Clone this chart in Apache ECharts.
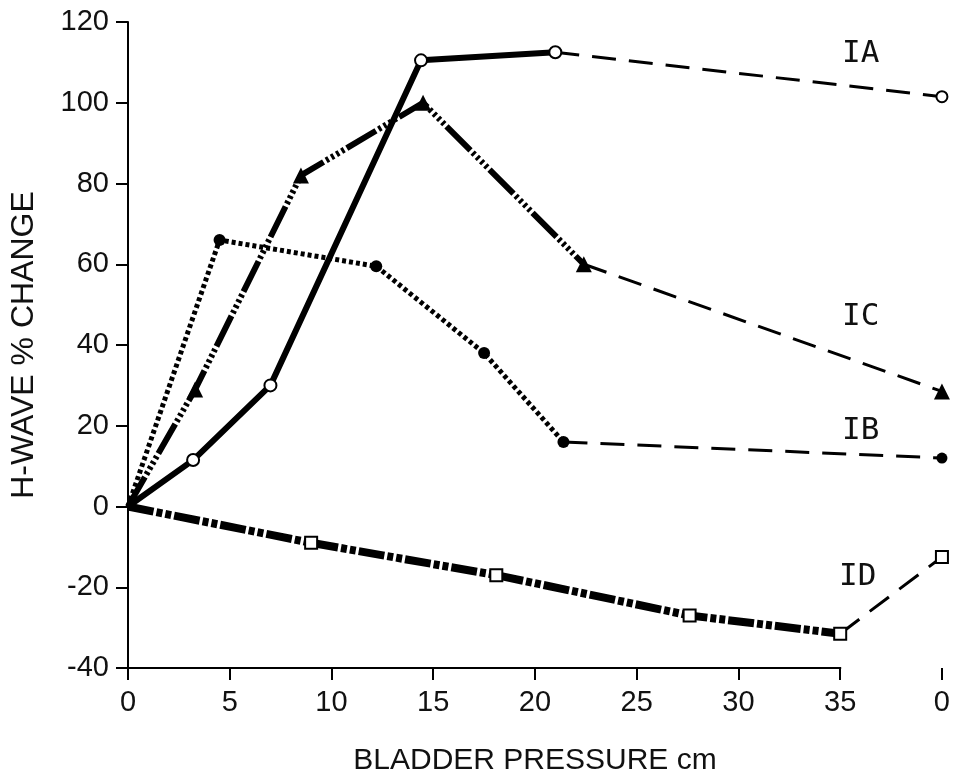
<!DOCTYPE html>
<html>
<head>
<meta charset="utf-8">
<script src="https://cdn.jsdelivr.net/npm/echarts@6/dist/echarts.min.js"></script>
<style>
  html, body { margin: 0; padding: 0; background: #fff; }
  #main { width: 953px; height: 781px; }
</style>
</head>
<body>
<div id="main"></div>
<script>
// x = 40 stands for the "0" shown after release of the bladder pressure
var xTicks = [0, 5, 10, 15, 20, 25, 30, 35, 40];
var xTickLabels = ['0', '5', '10', '15', '20', '25', '30', '35', '0'];
var xRecovery = 40;

// IA - open circles, solid
var iaX = [0, 3.2, 7.0, 14.4, 21.0];
var iaY = [0, 11.5, 30, 110.5, 112.5];
var iaRecovery = 101.5;

// IC - triangles, dashed/hatched
var icX = [0, 3.3, 8.5, 14.5, 22.4];
var icY = [0, 29, 82, 100, 60];
var icRecovery = 28.5;

// IB - filled circles, dotted
var ibX = [0, 4.5, 12.2, 17.5, 21.4];
var ibY = [0, 66, 59.5, 38, 16];
var ibRecovery = 12;

// ID - open squares, dash-dot-dot
var idX = [0, 9.0, 18.1, 27.6, 35.0];
var idY = [0, -9, -17, -27, -31.5];
var idRecovery = -12.5;

function pairs(xs, ys) {
  return xs.map(function (x, i) { return [x, ys[i]]; });
}
function recovery(xs, ys, r) {
  var n = xs.length - 1;
  return [[xs[n], ys[n]], [xRecovery, r]];
}
function skipFirst(sym) {
  return function (v, p) { return p.dataIndex === 0 ? 'none' : sym; };
}

var recoveryStyle = { color: '#000', width: 3, type: [24, 13], cap: 'butt' };
var openItem = { color: '#fff', borderColor: '#000', borderWidth: 2 };
var fillItem = { color: '#000', borderColor: '#000', borderWidth: 0 };

var chart = echarts.init(document.getElementById('main'));
chart.setOption({
  backgroundColor: '#fff',
  animation: false,
  grid: { left: 126, right: 10, top: 22, bottom: 103 },
  xAxis: {
    type: 'value', min: 0, max: 40, interval: 5,
    name: 'BLADDER PRESSURE cm', nameLocation: 'middle', nameGap: 78,
    nameTextStyle: { fontFamily: 'Liberation Sans', fontSize: 30, color: '#111' },
    axisLine: { show: false, onZero: false },
    axisTick: { show: true, length: 12, lineStyle: { color: '#000', width: 2 } },
    splitLine: { show: false },
    axisLabel: {
      margin: 20, fontFamily: 'Liberation Sans', fontSize: 29, color: '#111',
      formatter: function (v) { var i = xTicks.indexOf(v); return i < 0 ? '' : xTickLabels[i]; }
    }
  },
  yAxis: {
    type: 'value', min: -40, max: 120, interval: 20,
    name: 'H-WAVE % CHANGE', nameLocation: 'middle', nameGap: 88, nameRotate: 90,
    nameTextStyle: { fontFamily: 'Liberation Sans', fontSize: 32, color: '#111' },
    axisLine: { show: true, onZero: false, lineStyle: { color: '#000', width: 2 } },
    axisTick: { show: true, length: 12, lineStyle: { color: '#000', width: 2 } },
    splitLine: { show: false },
    axisLabel: { margin: 19, fontFamily: 'Liberation Sans', fontSize: 29, color: '#111' }
  },
  series: [
    { name: 'IA', type: 'line', data: pairs(iaX, iaY), symbol: skipFirst('circle'), symbolSize: 12,
      lineStyle: { color: '#000', width: 6 }, itemStyle: openItem, z: 4 },
    { name: 'IA rec', type: 'line', data: recovery(iaX, iaY, iaRecovery), symbol: skipFirst('circle'), symbolSize: 11,
      lineStyle: recoveryStyle, itemStyle: openItem, z: 3 },
    { name: 'IC', type: 'line', data: pairs(icX, icY), symbol: skipFirst('triangle'), symbolSize: 16,
      lineStyle: { color: '#000', width: 6, type: [34, 3, 3, 3, 3, 3, 3, 3, 3, 3], cap: 'butt' }, itemStyle: fillItem, z: 3 },
    { name: 'IC rec', type: 'line', data: recovery(icX, icY, icRecovery), symbol: skipFirst('triangle'), symbolSize: 16,
      lineStyle: recoveryStyle, itemStyle: fillItem, z: 3 },
    { name: 'IB', type: 'line', data: pairs(ibX, ibY), symbol: skipFirst('circle'), symbolSize: 12,
      lineStyle: { color: '#000', width: 5, type: [4, 3], cap: 'butt' }, itemStyle: fillItem, z: 3 },
    { name: 'IB rec', type: 'line', data: recovery(ibX, ibY, ibRecovery), symbol: skipFirst('circle'), symbolSize: 11,
      lineStyle: recoveryStyle, itemStyle: fillItem, z: 3 },
    { name: 'ID', type: 'line', data: pairs(idX, idY), symbol: skipFirst('rect'), symbolSize: 12,
      lineStyle: { color: '#000', width: 8, type: [26, 3, 6, 3, 6, 3], cap: 'butt' }, itemStyle: openItem, z: 3 },
    { name: 'ID rec', type: 'line', data: recovery(idX, idY, idRecovery), symbol: skipFirst('rect'), symbolSize: 12,
      lineStyle: recoveryStyle, itemStyle: openItem, z: 3 }
  ]
});

// x axis line only runs to 35; the recovery "0" stands apart
var a = chart.convertToPixel({ gridIndex: 0 }, [0, -40]);
var b = chart.convertToPixel({ gridIndex: 0 }, [35, -40]);
var labelFont = { fontFamily: 'DejaVu Sans Mono', fontSize: 31, fill: '#111' };
chart.setOption({
  graphic: [
    { type: 'line', shape: { x1: a[0] - 1, y1: a[1], x2: b[0] + 1, y2: b[1] }, style: { stroke: '#000', lineWidth: 2 }, z: 1 },
    { type: 'text', left: 842, top: 38, style: Object.assign({ text: 'IA' }, labelFont) },
    { type: 'text', left: 842, top: 301, style: Object.assign({ text: 'IC' }, labelFont) },
    { type: 'text', left: 842, top: 415, style: Object.assign({ text: 'IB' }, labelFont) },
    { type: 'text', left: 839, top: 561, style: Object.assign({ text: 'ID' }, labelFont) }
  ]
});
</script>
</body>
</html>
